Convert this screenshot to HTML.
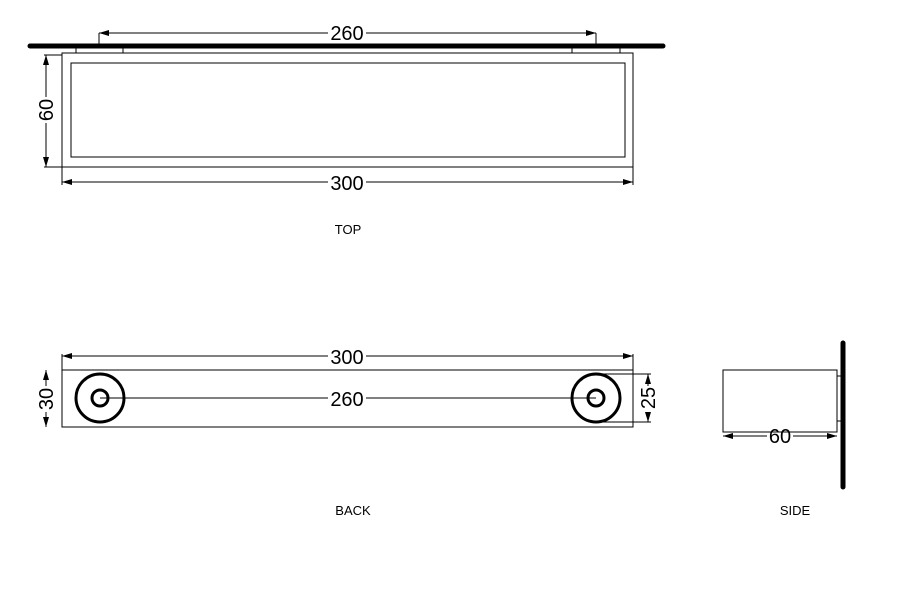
<!DOCTYPE html>
<html><head><style>body{margin:0;background:#fff}svg{display:block}</style></head><body>
<svg width="918" height="606" viewBox="0 0 918 606" xmlns="http://www.w3.org/2000/svg" font-family="Liberation Sans, sans-serif">
<defs><marker id="a" viewBox="0 0 10 6" refX="10" refY="3" markerWidth="10" markerHeight="6" orient="auto-start-reverse" markerUnits="userSpaceOnUse"><path d="M0,0L10,3L0,6z" fill="#000"/></marker></defs>
<g stroke="#000" fill="none" stroke-width="1">
<line x1="30" y1="46" x2="663" y2="46" stroke-width="5" stroke-linecap="round"/>
<rect x="62" y="53" width="571" height="114"/>
<rect x="71" y="63" width="554" height="94"/>
<path d="M76,48V53M123,48V53M572,48V53M620,48V53"/>
<path d="M99,33V46M596,33V46"/>
<line x1="99" y1="33" x2="596" y2="33" marker-start="url(#a)" marker-end="url(#a)"/>
<line x1="46" y1="55" x2="46" y2="167" marker-start="url(#a)" marker-end="url(#a)"/>
<path d="M44,55H62M44,167H62M62,167V185M633,167V185"/>
<line x1="62" y1="182" x2="633" y2="182" marker-start="url(#a)" marker-end="url(#a)"/>
<rect x="62" y="370" width="571" height="57"/>
<path d="M62,354V370M633,354V370"/>
<line x1="62" y1="356" x2="633" y2="356" marker-start="url(#a)" marker-end="url(#a)"/>
<line x1="46" y1="370" x2="46" y2="427" marker-start="url(#a)" marker-end="url(#a)"/>
<circle cx="100" cy="398" r="24" stroke-width="3"/>
<circle cx="100" cy="398" r="8" stroke-width="3"/>
<circle cx="596" cy="398" r="24" stroke-width="3"/>
<circle cx="596" cy="398" r="8" stroke-width="3"/>
<line x1="100" y1="398" x2="596" y2="398"/>
<path d="M596,374H651M596,422H651"/>
<line x1="648" y1="374" x2="648" y2="422" marker-start="url(#a)" marker-end="url(#a)"/>
<rect x="723" y="370" width="114" height="62"/>
<rect x="837" y="376" width="4" height="45"/>
<line x1="843" y1="343" x2="843" y2="487" stroke-width="5" stroke-linecap="round"/>
<line x1="723" y1="436" x2="837" y2="436" marker-start="url(#a)" marker-end="url(#a)"/>
</g>
<g font-size="20" text-anchor="middle" fill="#000">
<rect x="328" y="22" width="38" height="20" fill="#fff"/><text x="347" y="40">260</text>
<rect x="328" y="172" width="38" height="20" fill="#fff"/><text x="347" y="190">300</text>
<rect x="328" y="346" width="38" height="20" fill="#fff"/><text x="347" y="364">300</text>
<rect x="328" y="388" width="38" height="20" fill="#fff"/><text x="347" y="406">260</text>
<rect x="767" y="434" width="26" height="8" fill="#fff"/><text x="780" y="443">60</text>
<rect x="36" y="97" width="20" height="26" fill="#fff"/><text transform="translate(53,110) rotate(-90)">60</text>
<rect x="36" y="386" width="20" height="26" fill="#fff"/><text transform="translate(53,399) rotate(-90)">30</text>
<rect x="638" y="386" width="20" height="26" fill="#fff"/><text transform="translate(655,398) rotate(-90)">25</text>
</g>
<g font-size="13" text-anchor="middle" fill="#000">
<text x="348" y="234">TOP</text>
<text x="353" y="515">BACK</text>
<text x="795" y="515">SIDE</text>
</g>
</svg>
</body></html>
